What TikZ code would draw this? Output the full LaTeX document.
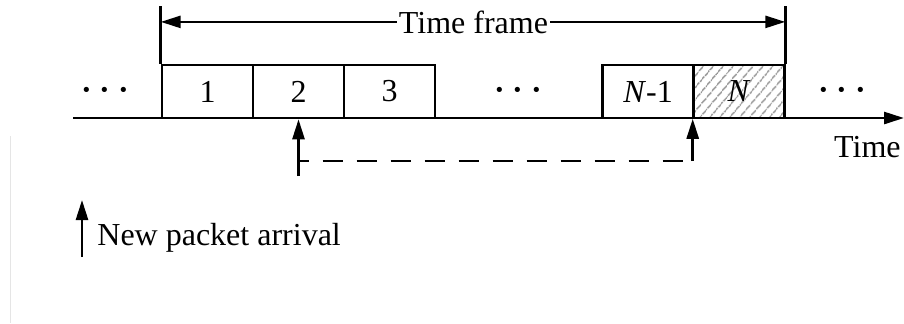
\documentclass[tikz,border=0pt]{standalone}
\usepackage{fontspec}
\setmainfont{Liberation Serif}
\usetikzlibrary{positioning, arrows.meta, patterns.meta}

\begin{document}
\begin{tikzpicture}[x=0.5pt, y=-0.5pt, node distance=45.5pt, on grid,
    slot/.style={draw, line width=1.3pt, minimum width=45.5pt, minimum height=26.5pt, inner sep=0pt, font=\fontsize{16}{19}\selectfont},
    txt/.style={font=\fontsize{16}{19}\selectfont, inner sep=0pt},
    dots/.style={font=\fontsize{22}{24}\selectfont, inner sep=0pt, anchor=base},
    arr/.style={-{Triangle[length=10pt, width=6pt]}, line width=1.3pt}]
    \useasboundingbox (0,0) rectangle (904,323);
    \draw[gray!20, line width=0.5pt] (10,136) -- (10,323);

    \node[slot] (s1) at (207.5,91.5) {1};
    \node[slot] (s2) [right=of s1] {2};
    \node[slot] (s3) [right=of s2] {3};
    \node[slot] (sn1) at (648,91.5) {\textit{N}-1};
    \node[slot, pattern={Lines[angle=50, distance=4pt, line width=0.8pt]}, pattern color=gray!85] (sn) [right=of sn1] {\textit{N}};

    \node[dots] (dl) at (105,104) {·\hspace{2pt}·\hspace{2pt}·};
    \node[dots] (dm) at (518,104) {·\hspace{2pt}·\hspace{2pt}·};
    \node[dots] (dr) at (842,104) {·\hspace{2pt}·\hspace{2pt}·};

    \coordinate (t0) at (73,118);
    \coordinate (t1) at (904,118);
    \draw[arr] (t0) -- (t1);
    \node[txt, anchor=base east] (time) at (901,157) {Time};

    \draw[line width=1.3pt] (s1.north west) -- ++(0,-58);
    \draw[line width=1.3pt] (sn.north east) -- ++(0,-58);
    \node[txt, anchor=base, inner xsep=1pt] (frame) at (473.5,33) {Time frame};
    \draw[arr] (frame.west) -- (frame.west -| s1.north west);
    \draw[arr] (frame.east) -- (frame.east -| sn.north east);

    \coordinate (p1) at (298.5,176);
    \draw[arr] (p1) -- (s2.south);
    \coordinate (d1) at (298.5,161);
    \coordinate (d2) at (sn.south west |- d1);
    \draw[line width=1.3pt, dash pattern=on 10pt off 7pt, dash phase=5pt] (d1) -- (d2);
    \draw[arr] (d2) -- (sn.south west);

    \coordinate (l0) at (82,257);
    \coordinate (l1) at (82,200);
    \draw[arr] (l0) -- (l1);
    \node[txt, anchor=base west] (legend) at (97,245) {New packet arrival};
\end{tikzpicture}
\end{document}
